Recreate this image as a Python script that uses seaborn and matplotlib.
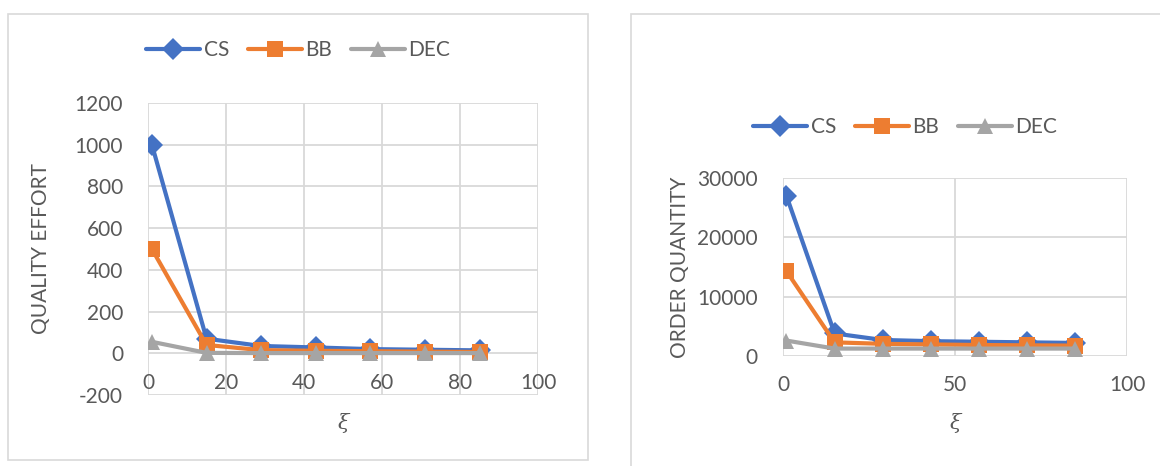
import matplotlib
matplotlib.use("Agg")
import matplotlib.pyplot as plt
import seaborn as sns
import pandas as pd
from matplotlib.patches import Rectangle

xi = [1, 15, 29, 43, 57, 71, 85]
series_names = ["CS", "BB", "DEC"]

quality_cs = [1000, 70, 35, 28, 20, 17, 14]
quality_bb = [500, 40, 15, 12, 10, 8, 6]
quality_dec = [55, 2, 1, 1, 1, 1, 1]

order_cs = [27000, 3800, 2700, 2500, 2400, 2300, 2200]
order_bb = [14300, 2300, 2050, 1950, 1850, 1800, 1750]
order_dec = [2600, 1250, 1250, 1250, 1250, 1250, 1250]

palette = {"CS": "#4472C4", "BB": "#ED7D31", "DEC": "#A5A5A5"}
markers = {"CS": "D", "BB": "s", "DEC": "^"}

def long_df(a, b, c):
    rows = []
    for name, vals in zip(series_names, [a, b, c]):
        for x, v in zip(xi, vals):
            rows.append({"xi": x, "val": v, "series": name})
    return pd.DataFrame(rows)

sns.set_theme(style="white")
plt.rcParams["font.family"] = ["Lato", "DejaVu Sans"]
plt.rcParams["axes.unicode_minus"] = False
TXT = "#595959"
GRID = "#D9D9D9"
FS = 15

W, H = 1160, 466
fig = plt.figure(figsize=(W / 100, H / 100), dpi=100)

def px_axes(l, r, t, b):
    return fig.add_axes([l / W, (H - b) / H, (r - l) / W, (b - t) / H])

# Panel borders
fig.patches.append(Rectangle((8 / W, (H - 460) / H), 580 / W, 446 / H, transform=fig.transFigure,
                             fill=False, edgecolor=GRID, linewidth=1.2))
fig.patches.append(Rectangle((631 / W, (H - 480) / H), 600 / W, 466 / H, transform=fig.transFigure,
                             fill=False, edgecolor=GRID, linewidth=1.2, clip_on=False))

def draw(ax, df, ylim, yticks, xticks, ylabel, legend_xy):
    sns.lineplot(data=df, x="xi", y="val", hue="series", style="series",
                 palette=palette, markers=markers, dashes=False, ax=ax,
                 linewidth=3.0, markersize=11, markeredgewidth=0, sort=False)
    ax.set_xlim(0, 100)
    ax.set_ylim(*ylim)
    ax.set_xticks(xticks)
    ax.set_yticks(yticks)
    ax.grid(True, color=GRID, linewidth=1.3)
    ax.set_axisbelow(True)
    for s in ax.spines.values():
        s.set_visible(False)
    ax.tick_params(axis="both", colors=TXT, labelsize=FS, length=0)
    ax.tick_params(axis="y", pad=18)
    ax.tick_params(axis="x", pad=14)
    ax.set_ylabel(ylabel, color=TXT, fontsize=FS)
    ax.set_xlabel("ξ", color=TXT, fontsize=15, family=["DejaVu Serif"], style="italic")
    h, l = ax.get_legend_handles_labels()
    ax.legend(h, l, loc="center", bbox_to_anchor=legend_xy, bbox_transform=fig.transFigure,
              ncol=3, frameon=False, fontsize=FS, labelcolor=TXT, handlelength=2.6,
              handletextpad=0.15, columnspacing=0.9, markerscale=1.0)

# Left panel
ax1 = px_axes(148, 538, 103, 395)
draw(ax1, long_df(quality_cs, quality_bb, quality_dec), (-200, 1200),
     [-200, 0, 200, 400, 600, 800, 1000, 1200], [0, 20, 40, 60, 80, 100],
     "QUALITY EFFORT", (298 / W, (H - 50) / H))
ax1.spines["bottom"].set_position(("data", 0))
ax1.xaxis.set_label_coords(0.5, -0.06)
ax1.yaxis.set_label_coords(-0.25, 0.5)

# Right panel
ax2 = px_axes(783, 1127, 178, 356)
draw(ax2, long_df(order_cs, order_bb, order_dec), (0, 30000),
     [0, 10000, 20000, 30000], [0, 50, 100],
     "ORDER QUANTITY", (905 / W, (H - 127) / H))
ax2.xaxis.set_label_coords(0.5, -0.32)
ax2.yaxis.set_label_coords(-0.27, 0.5)

fig.savefig("out.png", dpi=100)
